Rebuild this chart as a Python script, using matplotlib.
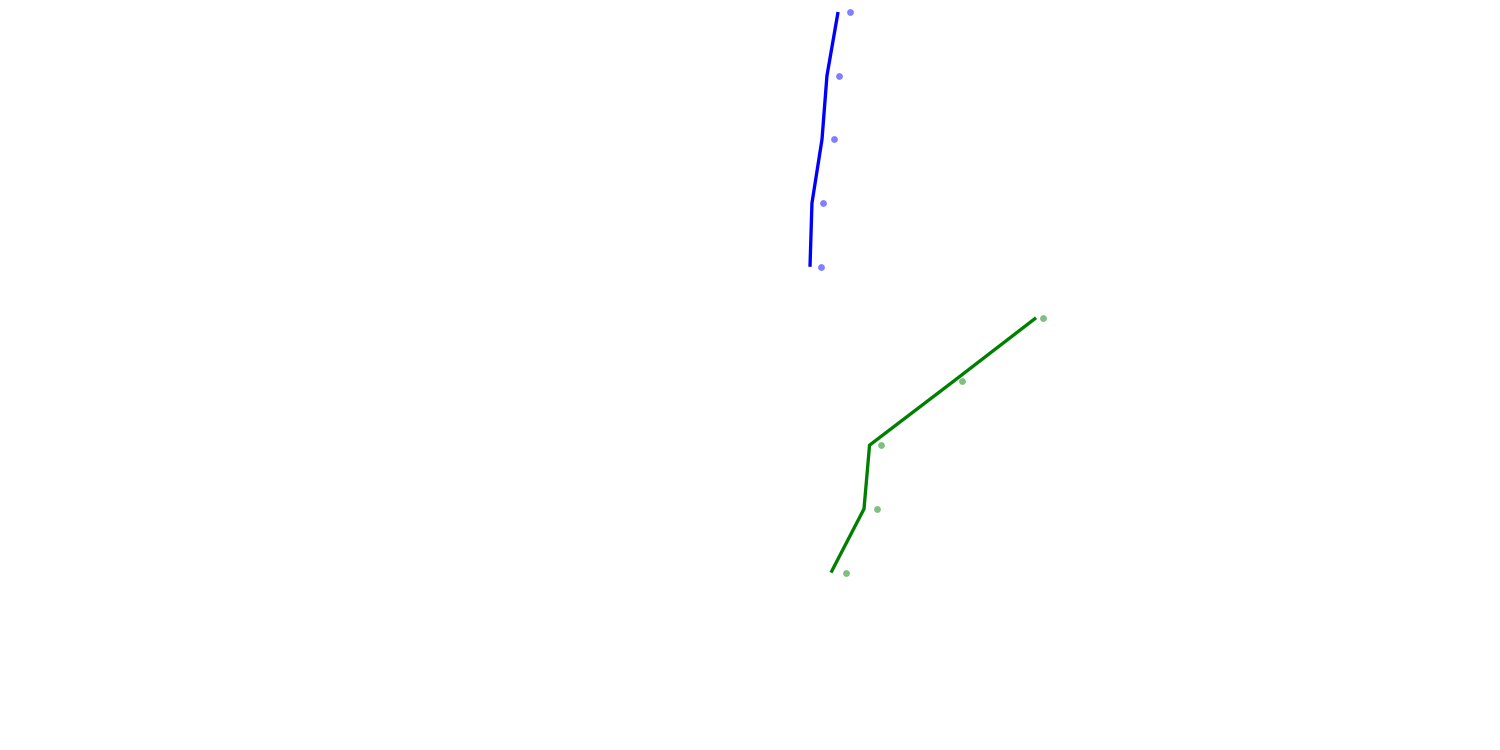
import matplotlib
matplotlib.use("Agg")
import matplotlib.pyplot as plt

# Row positions (category index along the vertical axis)
blue_rows = [0, 1, 2, 3, 4]
green_rows = [4.8, 5.8, 6.8, 7.8, 8.8]

# Values (0-100 scale across the figure width)
blue_line = [55.87, 55.13, 54.80, 54.13, 54.00]
blue_points = [56.67, 55.93, 55.60, 54.87, 54.73]
green_line = [69.07, 63.55, 57.97, 57.60, 55.40]
green_points = [69.53, 64.13, 58.73, 58.47, 56.40]

fig = plt.figure(figsize=(15, 7.5), dpi=100)
ax = fig.add_axes([0, 0, 1, 1])
ax.axis("off")

ax.plot(blue_line, blue_rows, color="#0000ff", lw=2.4, solid_capstyle="butt", zorder=2)
ax.scatter(blue_points, blue_rows, color="#0000ff", alpha=0.5, s=24, linewidths=0, zorder=3)
ax.plot(green_line, green_rows, color="#008000", lw=2.4, solid_capstyle="butt", zorder=2)
ax.scatter(green_points, green_rows, color="#008000", alpha=0.5, s=24, linewidths=0, zorder=3)

# 63.7 px per row, row 0 at 12 px from the top
ax.set_xlim(0, 100)
ax.set_ylim(11.585, -0.1884)

fig.savefig("out.png", dpi=100)
